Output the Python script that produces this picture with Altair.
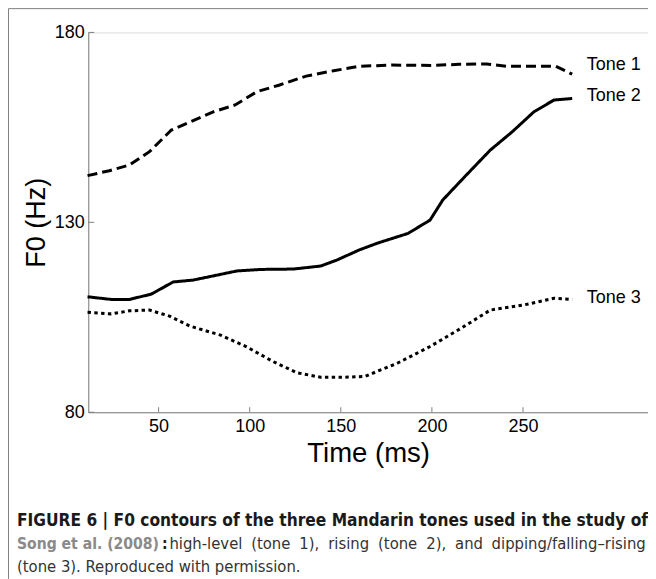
import altair as alt
import pandas as pd

# ---- data ----
tone1_time = [11, 23, 34, 45, 57, 69, 80, 92, 104, 116, 131, 146, 160, 178, 200, 215, 230, 241, 268, 277]
tone1_f0 = [142.3, 143.6, 145.1, 148.6, 154.3, 156.8, 159.1, 160.9, 164.4, 166.1, 168.5, 169.9,
            171.1, 171.4, 171.3, 171.6, 171.7, 171.1, 171.1, 169.0]

tone2_time = [11, 24, 34, 46, 58, 69, 81, 93, 106, 124, 139, 148, 160, 170, 187, 199, 206, 218,
              232, 244, 256, 267, 277]
tone2_f0 = [110.4, 109.7, 109.7, 111.1, 114.3, 114.8, 116.0, 117.2, 117.6, 117.7, 118.5, 120.1,
            122.7, 124.5, 127.1, 130.6, 135.9, 142.0, 149.0, 153.8, 159.1, 162.2, 162.6]

tone3_time = [11, 24, 34, 45, 56, 67, 84, 98, 113, 126, 139, 150, 163, 181, 199, 216, 232, 250, 267, 277]
tone3_f0 = [106.3, 105.9, 106.7, 106.9, 105.3, 102.7, 100.3, 97.3, 93.3, 90.4, 89.2, 89.2, 89.4,
            92.9, 97.3, 102.1, 106.9, 108.2, 110.0, 109.7]

tone_names = ["Tone 1", "Tone 2", "Tone 3"]
label_time = [285, 285, 285]
label_f0 = [171.5, 163.2, 110.1]

x_ticks = [50, 100, 150, 200, 250]
y_ticks = [80, 130, 180]
x_domain = [11.4, 318.6]
y_domain = [80, 180]

caption1 = "FIGURE 6 | F0 contours of the three Mandarin tones used in the study of"
caption2a = "Song et al. (2008)"
caption2b = ":"
caption2_words = ["high-level", "(tone", "1),", "rising", "(tone", "2),", "and",
                  "dipping/falling\u2013rising"]
caption3 = "(tone 3). Reproduced with permission."

# ---- layout ----
W, H = 560, 380
OX, OY = 88.3, 32.3          # page position of the plot origin
FONT = "Liberation Sans"
CFONT = "DejaVu Sans Condensed"
GRAY = "#7f7f7f"

rows = []
for name, ts, fs in [("Tone 1", tone1_time, tone1_f0), ("Tone 2", tone2_time, tone2_f0),
                     ("Tone 3", tone3_time, tone3_f0)]:
    for t, f in zip(ts, fs):
        rows.append({"tone": name, "time": t, "f0": f})
df = pd.DataFrame(rows)

xs = alt.Scale(domain=x_domain, nice=False, zero=False)
ys = alt.Scale(domain=y_domain, nice=False, zero=False)

x_axis = alt.Axis(values=x_ticks, grid=False, ticks=False, labelPadding=5, labelFontSize=18,
                  labelColor="black", domainColor=GRAY, title="Time (ms)",
                  titleFontSize=27.5, titleFontWeight="normal", titleColor="black",
                  titlePadding=4)
y_axis = alt.Axis(values=y_ticks, grid=False, ticks=False, labelPadding=4, labelFontSize=18,
                  labelColor="black", domainColor=GRAY, title="F0 (Hz)",
                  titleFontSize=27, titleFontWeight="normal", titleColor="black",
                  titlePadding=4)

styles = {"Tone 1": [10, 5], "Tone 2": [1, 0], "Tone 3": [3.4, 3.4]}

layers = []
for name in tone_names:
    sub = df[df.tone == name]
    ch = alt.Chart(sub).mark_line(color="black", strokeWidth=3, strokeDash=styles[name],
                                  strokeCap="butt").encode(
        x=alt.X("time:Q", scale=xs, axis=x_axis),
        y=alt.Y("f0:Q", scale=ys, axis=y_axis),
    )
    layers.append(ch)

labels = alt.Chart(pd.DataFrame({"tone": tone_names, "time": label_time, "f0": label_f0})).mark_text(
    align="left", baseline="middle", font=FONT, fontSize=18, color="black"
).encode(x=alt.X("time:Q", scale=xs, axis=x_axis), y=alt.Y("f0:Q", scale=ys, axis=y_axis), text="tone:N")
layers.append(labels)

# inward-pointing ticks
xt = alt.Chart(pd.DataFrame({"time": x_ticks})).mark_rule(color=GRAY, strokeWidth=1).encode(
    x=alt.X("time:Q", scale=xs, axis=x_axis), y=alt.value(H), y2=alt.value(H - 5))
yt = alt.Chart(pd.DataFrame({"f0": y_ticks})).mark_rule(color=GRAY, strokeWidth=1).encode(
    y=alt.Y("f0:Q", scale=ys, axis=y_axis), x=alt.value(0), x2=alt.value(6))
layers += [xt, yt]

# figure frame
one = pd.DataFrame({"a": [0]})
frame_top = alt.Chart(one).mark_rule(color=GRAY, strokeWidth=1).encode(
    x=alt.value(8.5 - OX), x2=alt.value(W), y=alt.value(8.5 - OY))
frame_left = alt.Chart(one).mark_rule(color=GRAY, strokeWidth=1).encode(
    x=alt.value(8.5 - OX), y=alt.value(8.5 - OY), y2=alt.value(579 - OY))
layers += [frame_top, frame_left]

def cap(text, x, y, weight, color, size, align="left"):
    return alt.Chart(one).mark_text(align=align, baseline="alphabetic", font=CFONT, fontSize=size,
                                    fontWeight=weight, color=color, text=text).encode(
        x=alt.value(x - OX), y=alt.value(y - OY))

REG = "#333333"
layers += [
    cap(caption1, 17, 526, "bold", "#1a1a1a", 17.2),
    cap(caption2a, 17, 549.5, "bold", "#8a8a8a", 15.6),
    cap(caption2b, 162, 549.5, "bold", "#1a1a1a", 15.6),
    cap(caption3, 17, 572, "normal", REG, 16.5),
]
word_x = [169.5, 251.3, 299.4, 328.4, 378.2, 426.4, 455.3]
for w, xx in zip(caption2_words[:-1], word_x):
    layers.append(cap(w, xx, 549.5, "normal", REG, 16.5))
layers.append(cap(caption2_words[-1], 646, 549.5, "normal", REG, 16.5, align="right"))

chart = alt.layer(*layers).properties(
    width=W, height=H,
    autosize=alt.AutoSizeParams(type="none"),
    padding={"left": OX - 8, "top": OY - 8, "right": 0, "bottom": 579 - 8 - (OY - 8) - H},
).configure_view(stroke=None).configure(background="white", font=FONT)

chart.save("out.html", embed_options={"renderer": "svg", "actions": False})
